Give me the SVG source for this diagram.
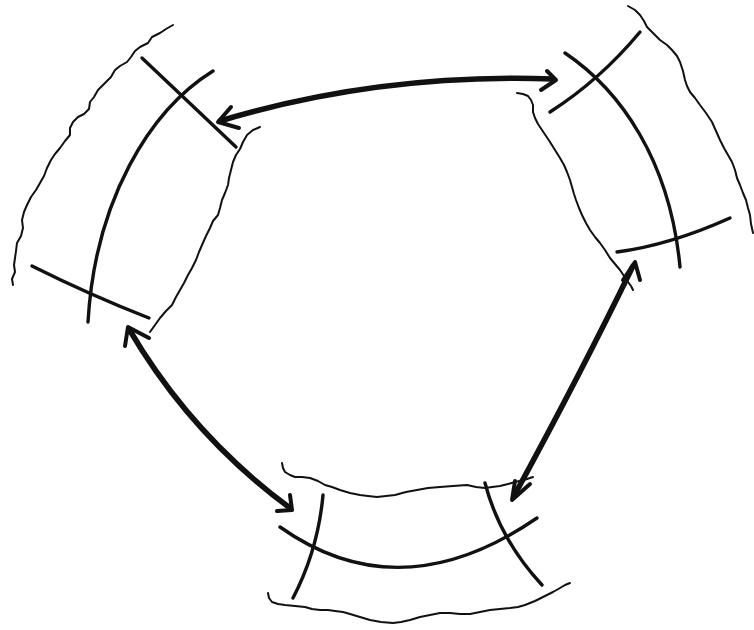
<svg xmlns="http://www.w3.org/2000/svg" width="754" height="630" viewBox="0 0 754 630">
<style>
.wave{fill:none;stroke:#111;stroke-width:2;stroke-linejoin:round;stroke-linecap:round}
.arc{fill:none;stroke:#111;stroke-width:3.4;stroke-linecap:round}
.arrow{fill:none;stroke:#111;stroke-width:5.5;stroke-linecap:round;stroke-linejoin:round}
.head{fill:none;stroke:#111;stroke-width:4;stroke-linecap:round;stroke-linejoin:round}
</style>
<rect width="754" height="630" fill="#fff"/>
<g id="module-left">
<polyline class="wave" points="173,25 166,29 160,33 152,37 148,43 140,47 135,51 131,57 127,62 120,66 115,70 111,77 104,84 98,90 94,97 90,102 89,109 84,114 78,117 73,122 70,128 70,135 65,141 60,148 55,154 51,160 47,168 44,176 40,183 36,190 31,197 27,205 24,212 22,220 23,228 21,236 17,243 16,251 15,258 14,265 15,272 12,279 13,285"/>
<polyline class="wave" points="260,127 253,130 247,135 243,142 240,149 236,155 233,162 231,170 229,178 228,185 225,193 222,200 220,208 218,215 213,221 210,228 206,236 202,245 199,252 196,260 192,268 188,275 184,283 180,290 176,297 172,305 166,311 160,318 155,325 150,332"/>
<path class="arc" d="M213,71 C150,110 95,200 88,322"/>
<path class="arc" d="M142,58 L236,147"/>
<path class="arc" d="M32,266 Q90,295 149,318"/>
</g>
<g id="module-right">
<polyline class="wave" points="628,6 635,10 640,15 644,21 647,27 653,33 660,40 667,45 672,50 677,56 680,62 683,71 685,80 687,86 690,92 695,98 700,105 706,113 712,122 716,131 720,140 724,148 728,155 732,162 735,170 737,178 740,185 743,193 746,200 748,208 750,215 751,224 753,233"/>
<polyline class="wave" points="517,93 523,94 528,96 531,100 533,105 533,112 535,118 538,124 542,130 546,136 550,142 555,150 560,158 564,165 567,172 570,180 572,187 574,194 576,200 579,208 582,215 586,223 590,230 595,237 600,243 605,250 610,258 615,264 620,270 624,276 628,282 631,286 633,290"/>
<path class="arc" d="M565,53 C620,90 670,160 680,267"/>
<path class="arc" d="M640,32 Q600,80 550,112"/>
<path class="arc" d="M617,252 Q670,245 730,218"/>
</g>
<g id="module-bottom">
<polyline class="wave" points="282,463 283,468 285,472 290,475 295,477 302,477 310,478 318,481 325,485 332,487 340,490 350,493 360,495 368,496 377,497 386,496 395,495 406,492 417,490 428,488 440,487 453,486 467,485 476,487 485,488 492,487 500,486 508,484 515,482 524,480 533,477"/>
<polyline class="wave" points="268,593 269,598 272,602 278,604 285,605 295,606 305,607 312,609 320,610 328,610 335,611 343,612 350,614 360,617 370,620 381,622 393,623 401,622 410,620 420,617 430,615 440,613 450,613 460,614 470,614 480,612 490,610 500,609 510,608 518,607 525,605 535,601 545,596 553,592 560,588 565,585 570,583"/>
<path class="arc" d="M280,527 Q400,612 537,518"/>
<path class="arc" d="M323,495 Q318,550 293,598"/>
<path class="arc" d="M485,483 Q500,540 542,585"/>
</g>
<g id="connectors">
<path class="arrow" d="M220,121 Q380,73 553,79"/>
<path class="head" d="M231,107 L218,122 L239,128"/>
<path class="head" d="M547,71 L556,80 L541,90"/>
<path class="arrow" d="M129,329 Q191,435 290,508"/>
<path class="head" d="M125,346 L128,327 L149,338"/>
<path class="head" d="M290,495 L292,510 L277,511"/>
<path class="arrow" d="M633,266 Q580,375 514,496"/>
<path class="head" d="M623,280 L635,262 L640,280"/>
<path class="head" d="M515,481 L512,500 L530,484"/>
</g>
</svg>
